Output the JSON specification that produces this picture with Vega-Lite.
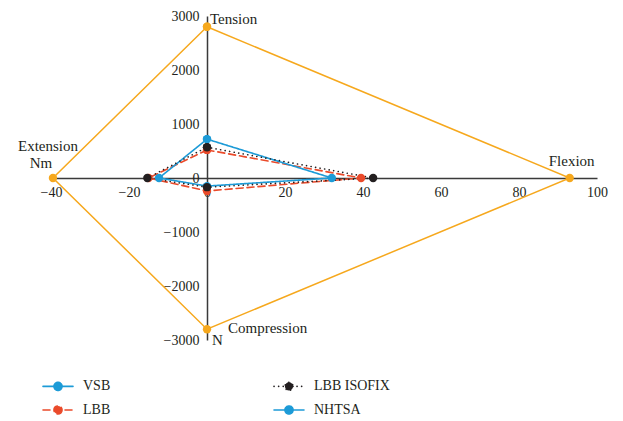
{
  "$schema": "https://vega.github.io/schema/vega-lite/v6.json",
  "width": 546,
  "height": 324,
  "autosize": "none",
  "padding": {"left": 51, "top": 16, "right": 26, "bottom": 81},
  "background": "white",
  "config": {"view": {"stroke": null}, "font": "Liberation Serif",
    "legend": {"labelFont": "Liberation Serif", "labelFontSize": 14},
    "axis": {"labelFont": "Liberation Serif"}},
  "datasets": {
    "series": [
      {"series": "NHTSA", "order": 1, "x": 0, "y": 2800},
      {"series": "NHTSA", "order": 2, "x": 93, "y": 0},
      {"series": "NHTSA", "order": 3, "x": 0, "y": -2800},
      {"series": "NHTSA", "order": 4, "x": -39.5, "y": 0},
      {"series": "NHTSA", "order": 5, "x": 0, "y": 2800},
      {"series": "LBB", "order": 1, "x": 0, "y": 520},
      {"series": "LBB", "order": 2, "x": 39.5, "y": 0},
      {"series": "LBB", "order": 3, "x": 0, "y": -240},
      {"series": "LBB", "order": 4, "x": -15, "y": 0},
      {"series": "LBB", "order": 5, "x": 0, "y": 520},
      {"series": "VSB", "order": 1, "x": 0, "y": 720},
      {"series": "VSB", "order": 2, "x": 32, "y": 0},
      {"series": "VSB", "order": 3, "x": 0, "y": -150},
      {"series": "VSB", "order": 4, "x": -12.3, "y": 0},
      {"series": "VSB", "order": 5, "x": 0, "y": 720},
      {"series": "LBB ISOFIX", "order": 1, "x": 0, "y": 570},
      {"series": "LBB ISOFIX", "order": 2, "x": 42.6, "y": 0},
      {"series": "LBB ISOFIX", "order": 3, "x": 0, "y": -170},
      {"series": "LBB ISOFIX", "order": 4, "x": -15.3, "y": 0},
      {"series": "LBB ISOFIX", "order": 5, "x": 0, "y": 570}
    ]
  },
  "data": {"name": "series"},
  "layer": [
    {
      "transform": [{"filter": "datum.series === 'NHTSA'"}],
      "mark": {"type": "line", "color": "#f6a81d", "strokeWidth": 1.5, "point": {"filled": true, "size": 70, "color": "#f6a81d"}},
      "encoding": {
        "x": {"field": "x", "type": "quantitative", "scale": {"domain": [-40, 100], "nice": false, "zero": false},
          "axis": {"title": null, "orient": "bottom", "offset": -162, "values": [-40, -20, 0, 20, 40, 60, 80, 100], "format": "d",
            "ticks": false, "grid": false, "domainColor": "#3a3a3a", "domainWidth": 1.5, "labelPadding": 7,
            "labelFont": "Liberation Serif", "labelFontSize": 14, "labelColor": "#231f20", "labelOverlap": false, "labelFlush": false}},
        "y": {"field": "y", "type": "quantitative", "scale": {"domain": [-3000, 3000], "nice": false, "zero": false},
          "axis": {"title": null, "orient": "left", "offset": -156, "values": [-3000, -2000, -1000, 0, 1000, 2000, 3000], "format": "d",
            "ticks": false, "grid": false, "domainColor": "#3a3a3a", "domainWidth": 1.5, "labelPadding": 8,
            "labelFont": "Liberation Serif", "labelFontSize": 14, "labelColor": "#231f20", "labelOverlap": false, "labelFlush": false}},
        "order": {"field": "order", "type": "quantitative"}
      }
    },
    {
      "transform": [{"filter": "datum.series !== 'NHTSA'"}],
      "mark": {"type": "line", "strokeWidth": 1.6, "strokeCap": "round", "point": {"filled": true, "size": 70}},
      "encoding": {
        "x": {"field": "x", "type": "quantitative"},
        "y": {"field": "y", "type": "quantitative"},
        "order": {"field": "order", "type": "quantitative"},
        "color": {"field": "series", "type": "nominal",
          "scale": {"domain": ["VSB", "LBB", "LBB ISOFIX", "NHTSA"], "range": ["#1d9bd7", "#ea4a2a", "#231f20", "#1d9bd7"]},
          "legend": {"title": null, "orient": "none", "legendX": -9, "legendY": 354, "columns": 2, "columnPadding": 159, "rowPadding": -4,
            "symbolType": "M-1,0H1M0.27,0A0.27,0.27 0 1,1 -0.27,0A0.27,0.27 0 1,1 0.27,0Z", "symbolSize": 900, "symbolStrokeWidth": 1.6,
            "labelFont": "Liberation Serif", "labelFontSize": 14, "labelColor": "#231f20", "labelOffset": 9,
            "encode": {"symbols": {"update": {"fill": {"scale": "color", "field": "value"}, "strokeCap": {"value": "round"}}},
                       "labels": {"update": {"font": {"value": "Liberation Serif"}}}}}},
        "strokeDash": {"field": "series", "type": "nominal",
          "scale": {"domain": ["VSB", "LBB", "LBB ISOFIX", "NHTSA"], "range": [[1, 0], [7, 4], [0.1, 4.5], [1, 0]]}}
      }
    },
    {
      "data": {"values": [{"x": 0, "y": 2800, "label": "Tension"}]},
      "mark": {"type": "text", "align": "left", "baseline": "middle", "dx": 3, "dy": -8, "font": "Liberation Serif", "fontSize": 15, "color": "#231f20"},
      "encoding": {"x": {"field": "x", "type": "quantitative"}, "y": {"field": "y", "type": "quantitative"}, "text": {"field": "label"}}
    },
    {
      "data": {"values": [{"x": 0, "y": -2800, "label": "Compression"}]},
      "mark": {"type": "text", "align": "left", "baseline": "middle", "dx": 21, "dy": -1, "font": "Liberation Serif", "fontSize": 15, "color": "#231f20"},
      "encoding": {"x": {"field": "x", "type": "quantitative"}, "y": {"field": "y", "type": "quantitative"}, "text": {"field": "label"}}
    },
    {
      "data": {"values": [{"x": 0, "y": -3000, "label": "N"}]},
      "mark": {"type": "text", "align": "left", "baseline": "middle", "dx": 5, "dy": 0, "font": "Liberation Serif", "fontSize": 15, "color": "#231f20"},
      "encoding": {"x": {"field": "x", "type": "quantitative"}, "y": {"field": "y", "type": "quantitative"}, "text": {"field": "label"}}
    },
    {
      "data": {"values": [{"x": 93, "y": 0, "label": "Flexion"}]},
      "mark": {"type": "text", "align": "center", "baseline": "middle", "dx": 2, "dy": -17, "font": "Liberation Serif", "fontSize": 15, "color": "#231f20"},
      "encoding": {"x": {"field": "x", "type": "quantitative"}, "y": {"field": "y", "type": "quantitative"}, "text": {"field": "label"}}
    },
    {
      "data": {"values": [{"x": -40, "y": 0, "label": "Extension"}]},
      "mark": {"type": "text", "align": "center", "baseline": "middle", "dx": -3, "dy": -32, "font": "Liberation Serif", "fontSize": 15, "color": "#231f20"},
      "encoding": {"x": {"field": "x", "type": "quantitative"}, "y": {"field": "y", "type": "quantitative"}, "text": {"field": "label"}}
    },
    {
      "data": {"values": [{"x": -40, "y": 0, "label": "Nm"}]},
      "mark": {"type": "text", "align": "center", "baseline": "middle", "dx": -10, "dy": -15, "font": "Liberation Serif", "fontSize": 15, "color": "#231f20"},
      "encoding": {"x": {"field": "x", "type": "quantitative"}, "y": {"field": "y", "type": "quantitative"}, "text": {"field": "label"}}
    }
  ]
}
